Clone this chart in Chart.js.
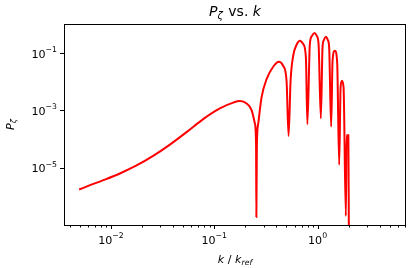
<!DOCTYPE html>
<html>
<head>
<meta charset="utf-8">
<script src="https://cdn.jsdelivr.net/npm/chart.js@4.4.1/dist/chart.umd.min.js"></script>
<style>
  html, body { margin: 0; padding: 0; background: #fff; }
</style>
</head>
<body>
<canvas id="chart" width="416" height="268"></canvas>
<script>
// ---------- Dados ----------
const kValues = [
  0.00492, 0.00628, 0.00844, 0.0122, 0.0177, 0.0256, 0.0372, 0.0539, 0.0781, 0.1133,
  0.1524, 0.1769, 0.2055, 0.2297, 0.2472, 0.2539, 0.2556, 0.2585, 0.266, 0.287,
  0.321, 0.372, 0.422, 0.464, 0.501, 0.524, 0.548, 0.581, 0.627, 0.674,
  0.726, 0.771, 0.797, 0.842, 0.881, 0.935, 0.984, 1.023, 1.076, 1.117,
  1.151, 1.203, 1.258, 1.295, 1.354, 1.397, 1.470, 1.548, 1.619, 1.671,
  1.719, 1.785, 1.879, 1.909, 1.987, 2.01
];
const pValues = [
  1.76e-6, 2.49e-6, 3.72e-6, 6.37e-6, 1.21e-5, 2.60e-5, 6.44e-5, 1.755e-4, 4.99e-4, 1.178e-3,
  1.877e-3, 2.12e-3, 1.76e-3, 1.03e-3, 3.53e-4, 6.18e-5, 1.95e-7, 6.18e-5, 3.34e-4, 2.85e-3,
  0.0124, 0.0333, 0.0498, 0.0361, 0.0108, 1.30e-4, 0.0108, 0.0805, 0.195, 0.269,
  0.206, 0.0708, 3.34e-4, 0.206, 0.392, 0.499, 0.392, 0.206, 5.27e-4, 0.158,
  0.284, 0.371, 0.284, 0.158, 2.68e-4, 0.0539, 0.120, 0.0474, 1.27e-5, 6.37e-3,
  0.0108, 6.37e-3, 2.11e-7, 1.38e-4, 1.38e-4, 3e-8
];

// ticks
const xMajorTicks = [0.01, 0.1, 1];
const xTickExps   = ['\u22122', '\u22121', '0'];
const yMajorTicks = [1e-1, 1e-3, 1e-5];
const yTickExps   = ['\u22121', '\u22123', '\u22125'];
const xMinorTicks = [0.004, 0.005, 0.006, 0.007, 0.008, 0.009,
                     0.02, 0.03, 0.04, 0.05, 0.06, 0.07, 0.08, 0.09,
                     0.2, 0.3, 0.4, 0.5, 0.6, 0.7, 0.8, 0.9,
                     2, 3, 4, 5, 6, 7];

// ---------- Helpers ----------
const FONT = '"DejaVu Sans", sans-serif';

// desenha texto "mathtext" simples (itálico, sub, sup)
function drawMath(ctx, parts, x, y, size, align) {
  const items = parts.map(p => {
    const small = p.sub || p.sup;
    const fs = small ? size * 0.7 : size;
    const font = (p.it ? 'italic ' : '') + fs.toFixed(2) + 'px ' + FONT;
    ctx.font = font;
    return { t: p.t, font, w: ctx.measureText(p.t).width + (p.pad || 0),
             dy: p.sub ? size * 0.22 : (p.sup ? -size * 0.5 : 0) };
  });
  const total = items.reduce((s, i) => s + i.w, 0);
  let cx = align === 'center' ? x - total / 2 : (align === 'right' ? x - total : x);
  items.forEach(i => {
    ctx.font = i.font;
    ctx.fillText(i.t, cx, y + i.dy);
    cx += i.w;
  });
}

const axesPlugin = {
  id: 'mplAxes',
  afterDraw(chart) {
    const ctx = chart.ctx;
    const a = chart.chartArea;
    const xs = chart.scales.x, ys = chart.scales.y;
    ctx.save();
    ctx.fillStyle = '#000';
    ctx.strokeStyle = '#000';
    ctx.lineWidth = 1;
    ctx.textAlign = 'left';
    ctx.textBaseline = 'alphabetic';

    // spines
    ctx.strokeRect(a.left + 0.5, a.top + 0.5, a.right - a.left - 1, a.bottom - a.top);

    // x ticks
    ctx.beginPath();
    xMajorTicks.forEach(v => {
      const px = Math.round(xs.getPixelForValue(v)) + 0.5;
      ctx.moveTo(px, a.bottom); ctx.lineTo(px, a.bottom + 4);
    });
    xMinorTicks.forEach(v => {
      const px = Math.round(xs.getPixelForValue(v)) + 0.5;
      ctx.moveTo(px, a.bottom); ctx.lineTo(px, a.bottom + 2.5);
    });
    // y ticks
    yMajorTicks.forEach(v => {
      const py = Math.round(ys.getPixelForValue(v)) + 0.5;
      ctx.moveTo(a.left, py); ctx.lineTo(a.left - 4, py);
    });
    ctx.stroke();

    // tick labels
    xMajorTicks.forEach((v, i) => {
      const px = xs.getPixelForValue(v);
      drawMath(ctx, [{ t: '10' }, { t: xTickExps[i], sup: true }], px, a.bottom + 19, 11.1, 'center');
    });
    yMajorTicks.forEach((v, i) => {
      const py = ys.getPixelForValue(v);
      drawMath(ctx, [{ t: '10' }, { t: yTickExps[i], sup: true }], a.left - 7, py + 4.5, 11.1, 'right');
    });

    // título
    const cxm = (a.left + a.right) / 2;
    drawMath(ctx, [{ t: 'P', it: true }, { t: '\u03b6', it: true, sub: true, pad: 1 }, { t: ' vs. ' }, { t: 'k', it: true }],
             cxm, 15.5, 14, 'center');

    // rótulo x
    drawMath(ctx, [{ t: 'k', it: true }, { t: ' / ' }, { t: 'k', it: true }, { t: 'ref', it: true, sub: true }],
             cxm, 263, 11.1, 'center');

    // rótulo y (rotacionado)
    ctx.translate(13.5, (a.top + a.bottom) / 2);
    ctx.rotate(-Math.PI / 2);
    drawMath(ctx, [{ t: 'P', it: true }, { t: '\u03b6', it: true, sub: true }], 0, 0, 11.1, 'center');
    ctx.restore();
  }
};

// ---------- Gráfico ----------
const points = kValues.map((k, i) => ({ x: k, y: pValues[i] }));

new Chart(document.getElementById('chart').getContext('2d'), {
  type: 'line',
  data: {
    datasets: [{
      data: points,
      borderColor: '#ff0000',
      borderWidth: 2,
      pointRadius: 0,
      fill: false,
      cubicInterpolationMode: 'monotone',
      clip: 0
    }]
  },
  options: {
    responsive: false,
    animation: false,
    layout: { padding: { left: 64, right: 10, top: 24, bottom: 43 } },
    plugins: { legend: { display: false }, tooltip: { enabled: false } },
    scales: {
      x: { type: 'logarithmic', display: false, bounds: 'data', min: 0.00351, max: 7.18 },
      y: { type: 'logarithmic', display: false, bounds: 'data', min: 1.02e-7, max: 1.03 }
    }
  },
  plugins: [axesPlugin]
});
</script>
</body>
</html>
